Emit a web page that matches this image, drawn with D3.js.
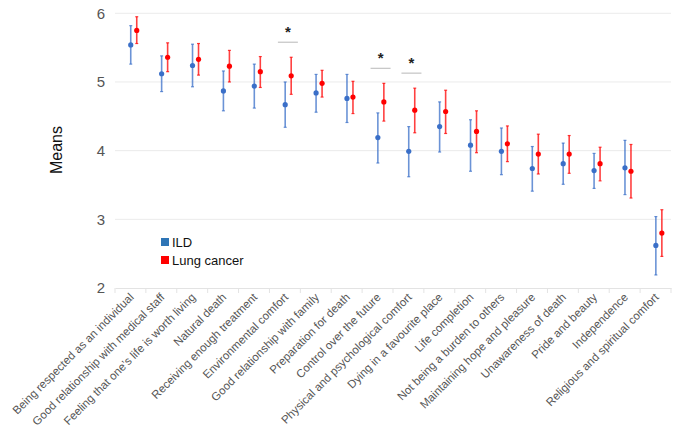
<!DOCTYPE html>
<html><head><meta charset="utf-8">
<script src="https://cdn.jsdelivr.net/npm/d3@7"></script>
<style>body{margin:0;background:#fff;font-family:Arial,"Liberation Sans",sans-serif}</style>
</head><body>
<svg id="chart" width="675" height="431"></svg>
<script>
const categories = ["Being respected as an individual","Good relationship with medical staff","Feeling that one\u2019s life is worth living","Natural death","Receiving enough treatment","Environmental comfort","Good relationship with family","Preparation for death","Control over the future","Physical and psychological comfort","Dying in a favourite place","Life completion","Not being a burden to others","Maintaining hope and pleasure","Unawareness of death","Pride and beauty","Independence","Religious and spiritual comfort"];
const ildMean = [5.54,5.12,5.24,4.87,4.94,4.67,4.84,4.76,4.19,3.99,4.35,4.08,3.99,3.74,3.81,3.71,3.75,2.62];
const ildLow  = [5.26,4.86,4.93,4.58,4.62,4.34,4.56,4.41,3.82,3.62,3.98,3.70,3.65,3.41,3.51,3.45,3.36,2.19];
const ildHigh = [5.82,5.38,5.55,5.16,5.26,5.00,5.11,5.11,4.55,4.35,4.71,4.45,4.33,4.06,4.11,3.96,4.15,3.04];
const lcMean  = [5.75,5.36,5.33,5.23,5.15,5.09,4.98,4.78,4.71,4.59,4.57,4.28,4.10,3.95,3.95,3.81,3.70,2.80];
const lcLow   = [5.56,5.15,5.10,5.00,4.92,4.82,4.78,4.54,4.43,4.26,4.25,3.97,3.84,3.66,3.67,3.56,3.31,2.46];
const lcHigh  = [5.95,5.57,5.56,5.46,5.37,5.36,5.17,5.01,4.98,4.91,4.88,4.58,4.36,4.24,4.22,4.05,4.09,3.14];
const yTicks = [2,3,4,5,6];
const significant = ["Environmental comfort","Control over the future","Physical and psychological comfort"];
const seriesNames = ["ILD","Lung cancer"];

const svg = d3.select("#chart");
const x = d3.scaleBand().domain(categories).range([115,671]);
const y = d3.scaleLinear().domain([2,6]).range([288,13.3]);
const blue = "#3a6fc8", red = "#ff0000";

// gridlines
svg.append("g").selectAll("line").data(yTicks.filter(d=>d>2)).join("line")
  .attr("x1",115).attr("x2",671).attr("y1",d=>y(d)).attr("y2",d=>y(d))
  .attr("stroke","#ebebeb").attr("stroke-width",1);

// y axis labels
const yAxis = svg.append("g").attr("transform","translate(115,0)")
  .call(d3.axisLeft(y).tickValues(yTicks).tickSize(0).tickPadding(10).tickFormat(d3.format("d")));
yAxis.select(".domain").remove();
yAxis.selectAll("text").attr("font-size",15).attr("fill","#555").attr("font-family","Arial, Liberation Sans, sans-serif");

// x axis
const xAxis = svg.append("g").attr("transform","translate(0,288)")
  .call(d3.axisBottom(x).tickSizeOuter(0).tickSizeInner(0).tickFormat(""));
xAxis.select(".domain").attr("stroke","#e3e3e3");
xAxis.selectAll(".tick").remove();
// boundary ticks
svg.append("g").selectAll("line").data(d3.range(categories.length+1)).join("line")
  .attr("x1",i=>115+i*x.step()).attr("x2",i=>115+i*x.step())
  .attr("y1",288).attr("y2",293).attr("stroke","#e3e3e3");
// labels
svg.append("g").selectAll("text").data(categories).join("text")
  .attr("transform",d=>`translate(${x(d)+x.bandwidth()/2+4},${298}) rotate(-45)`)
  .attr("text-anchor","end").attr("font-size",11.5).attr("fill","#555")
  .text(d=>d);

// y title
svg.append("text").attr("transform","translate(62,150) rotate(-90)")
  .attr("text-anchor","middle").attr("font-size",16).attr("fill","#111").text("Means");

function drawSeries(mean, low, high, color, dx){
  const g = svg.append("g");
  const cx = i => x(categories[i]) + x.bandwidth()/2 + dx;
  const idx = d3.range(categories.length);
  g.selectAll(".v").data(idx).join("line")
    .attr("x1",cx).attr("x2",cx).attr("y1",i=>y(low[i])).attr("y2",i=>y(high[i]))
    .attr("stroke",color).attr("stroke-width",1.6).attr("stroke-opacity",0.75);
  [low,high].forEach(arr=>{
    g.selectAll(null).data(idx).join("line")
      .attr("x1",i=>cx(i)-1.5).attr("x2",i=>cx(i)+1.5).attr("y1",i=>y(arr[i])).attr("y2",i=>y(arr[i]))
      .attr("stroke",color).attr("stroke-width",1.2).attr("stroke-opacity",0.75);
  });
  g.selectAll("circle").data(idx).join("circle")
    .attr("cx",cx).attr("cy",i=>y(mean[i])).attr("r",2.6).attr("fill",color);
}
drawSeries(ildMean, ildLow, ildHigh, blue, 0.3);
drawSeries(lcMean, lcLow, lcHigh, red, 6.3);

// significance marks
significant.forEach(c=>{
  const i = categories.indexOf(c);
  const cx = x(c)+x.bandwidth()/2+3;
  const top = lcHigh[i];
  const ly = y(top) - 15;
  svg.append("line").attr("x1",cx-10).attr("x2",cx+10).attr("y1",ly).attr("y2",ly)
    .attr("stroke","#c8c8c8").attr("stroke-width",1.3);
  svg.append("text").attr("x",cx).attr("y",ly-5).attr("text-anchor","middle")
    .attr("font-size",15).attr("font-weight","bold").attr("fill","#222").text("*");
});

// legend
const lg = svg.append("g").attr("transform","translate(161,238)");
seriesNames.forEach((n,k)=>{
  lg.append("rect").attr("x",0).attr("y",k*18).attr("width",8).attr("height",8)
    .attr("fill",k===0?"#2e75b6":"#ff0000");
  lg.append("text").attr("x",11).attr("y",k*18+8.5).attr("font-size",13).attr("fill","#111").text(n);
});
</script>
</body></html>
